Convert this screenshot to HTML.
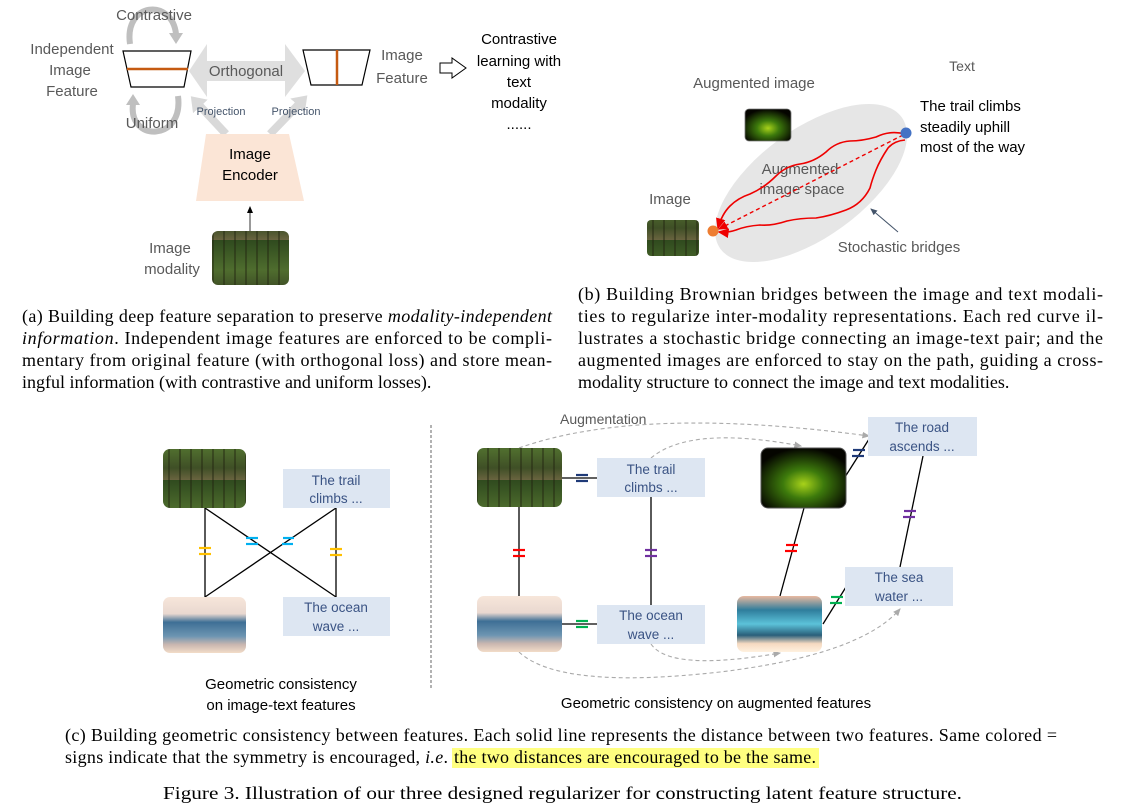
<!DOCTYPE html>
<html><head><meta charset="utf-8"><style>
html,body{margin:0;padding:0;background:#fff;}
svg{display:block;}
.cal{font-family:"Liberation Sans",sans-serif;}
.ser{font-family:"Liberation Serif",serif;font-size:18px;fill:#000;}
.g{fill:#595959;}
.bt{fill:#3a5384;font-size:13.5px;}
</style></head><body>
<svg width="1123" height="807" viewBox="0 0 1123 807" xmlns="http://www.w3.org/2000/svg">
<defs>
<linearGradient id="forest" x1="0" y1="0" x2="0" y2="1"><stop offset="0" stop-color="#2f4a1e"/><stop offset="0.5" stop-color="#4f6d2e"/><stop offset="0.8" stop-color="#3f4f26"/><stop offset="1" stop-color="#6a6440"/></linearGradient>
<pattern id="trees" width="11" height="60" patternUnits="userSpaceOnUse"><rect width="11" height="60" fill="url(#forest)"/><rect x="3" width="2" height="60" fill="#22240f" opacity="0.45"/></pattern>
<linearGradient id="ocean" x1="0" y1="0" x2="0" y2="1"><stop offset="0" stop-color="#f7e6da"/><stop offset="0.3" stop-color="#e9d8d0"/><stop offset="0.45" stop-color="#3e6f95"/><stop offset="0.7" stop-color="#6d95b2"/><stop offset="0.85" stop-color="#c9b6b0"/><stop offset="1" stop-color="#f2dcc8"/></linearGradient>
<linearGradient id="augocean" x1="0" y1="0" x2="0" y2="1"><stop offset="0" stop-color="#e9b9a0"/><stop offset="0.25" stop-color="#2f7d9c"/><stop offset="0.5" stop-color="#5cc2d9"/><stop offset="0.7" stop-color="#2a5f7a"/><stop offset="0.85" stop-color="#f5d9c0"/><stop offset="1" stop-color="#fff2e0"/></linearGradient>
<radialGradient id="aug" cx="0.5" cy="0.6" r="0.6"><stop offset="0" stop-color="#a8d21a"/><stop offset="0.4" stop-color="#3d7a0c"/><stop offset="1" stop-color="#050500"/></radialGradient>
<marker id="ga" markerWidth="8" markerHeight="8" refX="6" refY="4" orient="auto"><path d="M0,1 L7,4 L0,7 z" fill="#aaa"/></marker>
<marker id="ra" markerWidth="8" markerHeight="8" refX="6" refY="4" orient="auto"><path d="M0,1 L7,4 L0,7 z" fill="#e00"/></marker>
<marker id="ka" markerWidth="8" markerHeight="8" refX="6" refY="4" orient="auto"><path d="M0,1 L7,4 L0,7 z" fill="#000"/></marker>
<marker id="sa" markerWidth="8" markerHeight="8" refX="6" refY="4" orient="auto"><path d="M0,1 L7,4 L0,7 z" fill="#44546a"/></marker>
<marker id="pa" markerWidth="20" markerHeight="20" refX="2" refY="10" orient="auto" markerUnits="userSpaceOnUse"><path d="M0,0 L14,10 L0,20 z" fill="#d9d9d9"/></marker>
</defs>

<!-- ===== (a) ===== -->
<g>
<path d="M130,44 C124,2 172,-2 176,34" fill="none" stroke="#bfbfbf" stroke-width="6"/>
<path d="M169,33 L176,44 L183,33 z" fill="#bfbfbf"/>
<path d="M178,96 C184,142 128,142 133,104" fill="none" stroke="#bfbfbf" stroke-width="6"/>
<path d="M126,105 L133,94 L140,105 z" fill="#bfbfbf"/>
<text x="154" y="20" class="cal g" font-size="15" text-anchor="middle">Contrastive</text>
<text x="152" y="128" class="cal g" font-size="15" text-anchor="middle">Uniform</text>
<g class="cal g" font-size="15" text-anchor="middle">
<text x="72" y="54">Independent</text><text x="70" y="75">Image</text><text x="72" y="96">Feature</text></g>
<path d="M123,51 L191,51 L184,87 L131,87 z" fill="#fff" stroke="#000" stroke-width="1.2"/>
<line x1="127" y1="69" x2="188" y2="69" stroke="#c55a11" stroke-width="2.5"/>
<path d="M189,71 L207,44 L207,61 L285,61 L285,44 L305,71 L285,97 L285,81 L207,81 L207,97 z" fill="#d9d9d9" opacity="0.85"/>
<text x="246" y="76" class="cal g" font-size="15" text-anchor="middle">Orthogonal</text>
<path d="M303,50 L370,50 L362,85 L311,85 z" fill="#fff" stroke="#000" stroke-width="1.2"/>
<line x1="337" y1="50" x2="337" y2="85" stroke="#c55a11" stroke-width="2.5"/>
<g class="cal g" font-size="15" text-anchor="middle"><text x="402" y="60">Image</text><text x="402" y="83">Feature</text></g>
<path d="M440,63 L452,63 L452,58 L466,68 L452,78 L452,73 L440,73 z" fill="#fff" stroke="#000" stroke-width="1"/>
<g class="cal" font-size="15" fill="#000" text-anchor="middle">
<text x="519" y="44">Contrastive</text><text x="519" y="66">learning with</text><text x="519" y="87">text</text><text x="519" y="108">modality</text><text x="519" y="129">......</text></g>
<line x1="226" y1="134" x2="199" y2="105" stroke="#d9d9d9" stroke-width="8" marker-end="url(#pa)"/>
<line x1="270" y1="134" x2="299" y2="104" stroke="#d9d9d9" stroke-width="8" marker-end="url(#pa)"/>
<text x="221" y="115" class="cal" font-size="11" fill="#44546a" text-anchor="middle">Projection</text>
<text x="296" y="115" class="cal" font-size="11" fill="#44546a" text-anchor="middle">Projection</text>
<path d="M206,134 L289,134 L304,201 L196,201 z" fill="#fbe5d6"/>
<g class="cal" font-size="15" fill="#000" text-anchor="middle"><text x="250" y="159">Image</text><text x="250" y="180">Encoder</text></g>
<line x1="250" y1="231" x2="250" y2="207" stroke="#333" stroke-width="1" marker-end="url(#ka)"/>
<rect x="212" y="231" width="77" height="54" rx="6" fill="url(#trees)"/>
<g class="cal g" font-size="15" text-anchor="middle"><text x="170" y="253">Image</text><text x="172" y="274">modality</text></g>
</g>

<!-- ===== (b) ===== -->
<g>
<ellipse cx="811" cy="183" rx="112" ry="54" transform="rotate(-36 811 183)" fill="#e6e6e6"/>
<text x="962" y="71" class="cal g" font-size="14" text-anchor="middle">Text</text>
<text x="754" y="88" class="cal g" font-size="15" text-anchor="middle">Augmented image</text>
<rect x="745" y="109" width="46" height="32" rx="4" fill="url(#aug)" stroke="#777" stroke-width="0.8"/>
<text x="670" y="204" class="cal g" font-size="15" text-anchor="middle">Image</text>
<rect x="647" y="220" width="52" height="36" rx="4" fill="url(#trees)"/>
<g class="cal" font-size="15" fill="#000"><text x="920" y="111">The trail climbs</text><text x="920" y="132">steadily uphill</text><text x="920" y="152">most of the way</text></g>
<g class="cal g" font-size="15" text-anchor="middle"><text x="800" y="174">Augmented</text><text x="802" y="194">image space</text></g>
<path d="M905,134 Q890,130 876,137 Q862,141 850,141 Q836,142 826,152 Q814,162 800,164 Q786,166 776,176 Q764,188 750,194 Q738,198 730,206 Q722,214 718,228" fill="none" stroke="#e00" stroke-width="1.6" marker-end="url(#ra)"/>
<path d="M905,140 Q894,141 888,148 Q880,160 876,170 Q872,180 870,188 Q862,204 846,210 Q830,216 816,218 Q800,218 787,221 Q772,226 760,225 Q746,226 736,230 Q727,233 719,232" fill="none" stroke="#e00" stroke-width="1.6" marker-end="url(#ra)"/>
<line x1="903" y1="135" x2="719" y2="229" stroke="#e00" stroke-width="1.4" stroke-dasharray="4,3" marker-end="url(#ra)"/>
<circle cx="713" cy="231" r="5.5" fill="#ed7d31"/>
<circle cx="906" cy="133" r="5.5" fill="#4472c4"/>
<line x1="898" y1="232" x2="871" y2="209" stroke="#44546a" stroke-width="1" marker-end="url(#sa)"/>
<text x="899" y="252" class="cal g" font-size="15" text-anchor="middle">Stochastic bridges</text>
</g>

<!-- captions a, b -->
<g class="ser">
<text x="22" y="322" textLength="530" lengthAdjust="spacing">(a) Building deep feature separation to preserve <tspan font-style="italic">modality-independent</tspan></text>
<text x="22" y="344" textLength="530" lengthAdjust="spacing"><tspan font-style="italic">information</tspan>. Independent image features are enforced to be compli-</text>
<text x="22" y="366" textLength="530" lengthAdjust="spacing">mentary from original feature (with orthogonal loss) and store mean-</text>
<text x="22" y="388">ingful information (with contrastive and uniform losses).</text>
</g>
<g class="ser">
<text x="578" y="300" textLength="525" lengthAdjust="spacing">(b) Building Brownian bridges between the image and text modali-</text>
<text x="578" y="322" textLength="525" lengthAdjust="spacing">ties to regularize inter-modality representations. Each red curve il-</text>
<text x="578" y="344" textLength="525" lengthAdjust="spacing">lustrates a stochastic bridge connecting an image-text pair; and the</text>
<text x="578" y="366" textLength="525" lengthAdjust="spacing">augmented images are enforced to stay on the path, guiding a cross-</text>
<text x="578" y="388">modality structure to connect the image and text modalities.</text>
</g>

<!-- ===== (c) ===== -->
<g>
<line x1="431" y1="425" x2="431" y2="688" stroke="#666" stroke-width="1" stroke-dasharray="3,2"/>
<g stroke="#000" stroke-width="1.3">
<line x1="205" y1="508" x2="205" y2="597"/><line x1="205" y1="508" x2="336" y2="597"/>
<line x1="336" y1="508" x2="205" y2="597"/><line x1="336" y1="508" x2="336" y2="597"/></g>
<rect x="163" y="449" width="83" height="59" rx="7" fill="url(#trees)"/>
<rect x="163" y="597" width="83" height="56" rx="7" fill="url(#ocean)"/>
<rect x="283" y="469" width="107" height="39" fill="#dde6f2"/>
<text x="336" y="485" class="cal bt" text-anchor="middle">The trail</text><text x="336" y="503" class="cal bt" text-anchor="middle">climbs ...</text>
<rect x="283" y="597" width="107" height="39" fill="#dde6f2"/>
<text x="336" y="612" class="cal bt" text-anchor="middle">The ocean</text><text x="336" y="631" class="cal bt" text-anchor="middle">wave ...</text>
<g stroke-width="2.2">
<g stroke="#ffc000"><line x1="199" y1="548" x2="211" y2="548"/><line x1="199" y1="554" x2="211" y2="554"/>
<line x1="330" y1="549" x2="342" y2="549"/><line x1="330" y1="555" x2="342" y2="555"/></g>
<g stroke="#00b0f0"><line x1="246" y1="538" x2="258" y2="538"/><line x1="246" y1="544" x2="258" y2="544"/>
<line x1="283" y1="538" x2="294" y2="538"/><line x1="282" y1="544" x2="293" y2="544"/></g></g>
<g class="cal" font-size="15" fill="#000" text-anchor="middle"><text x="281" y="689">Geometric consistency</text><text x="281" y="710">on image-text features</text></g>

<text x="560" y="424" class="cal g" font-size="14">Augmentation</text>
<g fill="none" stroke="#aaa" stroke-width="1.1" stroke-dasharray="4,3">
<path d="M519,448 Q640,405 869,436" marker-end="url(#ga)"/>
<path d="M651,458 Q690,425 801,446" marker-end="url(#ga)"/>
<path d="M519,652 Q560,690 720,672 Q860,655 900,609" marker-end="url(#ga)"/>
<path d="M651,644 Q670,672 780,653" marker-end="url(#ga)"/>
</g>
<g stroke="#000" stroke-width="1.3">
<line x1="562" y1="478" x2="597" y2="478"/><line x1="519" y1="507" x2="519" y2="596"/>
<line x1="651" y1="497" x2="651" y2="605"/><line x1="562" y1="624" x2="597" y2="624"/>
<line x1="845" y1="477" x2="871" y2="436"/><line x1="804" y1="508" x2="780" y2="596"/>
<line x1="923" y1="456" x2="900" y2="567"/><line x1="823" y1="624" x2="846" y2="587"/></g>
<rect x="477" y="448" width="85" height="59" rx="7" fill="url(#trees)"/>
<rect x="477" y="596" width="85" height="56" rx="7" fill="url(#ocean)"/>
<rect x="761" y="448" width="85" height="60" rx="7" fill="url(#aug)" stroke="#555" stroke-width="1"/>
<rect x="737" y="596" width="85" height="56" rx="7" fill="url(#augocean)"/>
<rect x="597" y="458" width="108" height="39" fill="#dde6f2"/>
<text x="651" y="474" class="cal bt" text-anchor="middle">The trail</text><text x="651" y="492" class="cal bt" text-anchor="middle">climbs ...</text>
<rect x="597" y="605" width="108" height="39" fill="#dde6f2"/>
<text x="651" y="620" class="cal bt" text-anchor="middle">The ocean</text><text x="651" y="639" class="cal bt" text-anchor="middle">wave ...</text>
<rect x="868" y="417" width="109" height="39" fill="#dde6f2"/>
<text x="922" y="432" class="cal bt" text-anchor="middle">The road</text><text x="922" y="451" class="cal bt" text-anchor="middle">ascends ...</text>
<rect x="845" y="567" width="108" height="39" fill="#dde6f2"/>
<text x="899" y="582" class="cal bt" text-anchor="middle">The sea</text><text x="899" y="601" class="cal bt" text-anchor="middle">water ...</text>
<g stroke-width="2.2">
<g stroke="#1f3a78"><line x1="576" y1="475" x2="588" y2="475"/><line x1="576" y1="481" x2="588" y2="481"/>
<line x1="853" y1="450" x2="865" y2="450"/><line x1="852" y1="456" x2="864" y2="456"/></g>
<g stroke="#ff0000"><line x1="513" y1="550" x2="525" y2="550"/><line x1="513" y1="556" x2="525" y2="556"/>
<line x1="786" y1="545" x2="798" y2="545"/><line x1="785" y1="551" x2="797" y2="551"/></g>
<g stroke="#7030a0"><line x1="645" y1="550" x2="657" y2="550"/><line x1="645" y1="556" x2="657" y2="556"/>
<line x1="904" y1="511" x2="916" y2="511"/><line x1="903" y1="517" x2="915" y2="517"/></g>
<g stroke="#00b050"><line x1="576" y1="621" x2="588" y2="621"/><line x1="576" y1="627" x2="588" y2="627"/>
<line x1="831" y1="597" x2="843" y2="597"/><line x1="830" y1="603" x2="842" y2="603"/></g></g>
<text x="716" y="708" class="cal" font-size="15" fill="#000" text-anchor="middle">Geometric consistency on augmented features</text>
</g>

<!-- caption c -->
<rect x="452" y="748" width="367" height="20" fill="#ffff80"/>
<g class="ser">
<text x="65" y="741" textLength="992" lengthAdjust="spacing">(c) Building geometric consistency between features. Each solid line represents the distance between two features. Same colored =</text>
<text x="65" y="763" textLength="383" lengthAdjust="spacing">signs indicate that the symmetry is encouraged, <tspan font-style="italic">i.e</tspan>.</text>
<text x="454" y="763" textLength="362" lengthAdjust="spacing">the two distances are encouraged to be the same.</text>
</g>
<text x="163" y="799" class="ser" font-size="22" textLength="799" lengthAdjust="spacingAndGlyphs">Figure 3. Illustration of our three designed regularizer for constructing latent feature structure.</text>
</svg>
</body></html>
